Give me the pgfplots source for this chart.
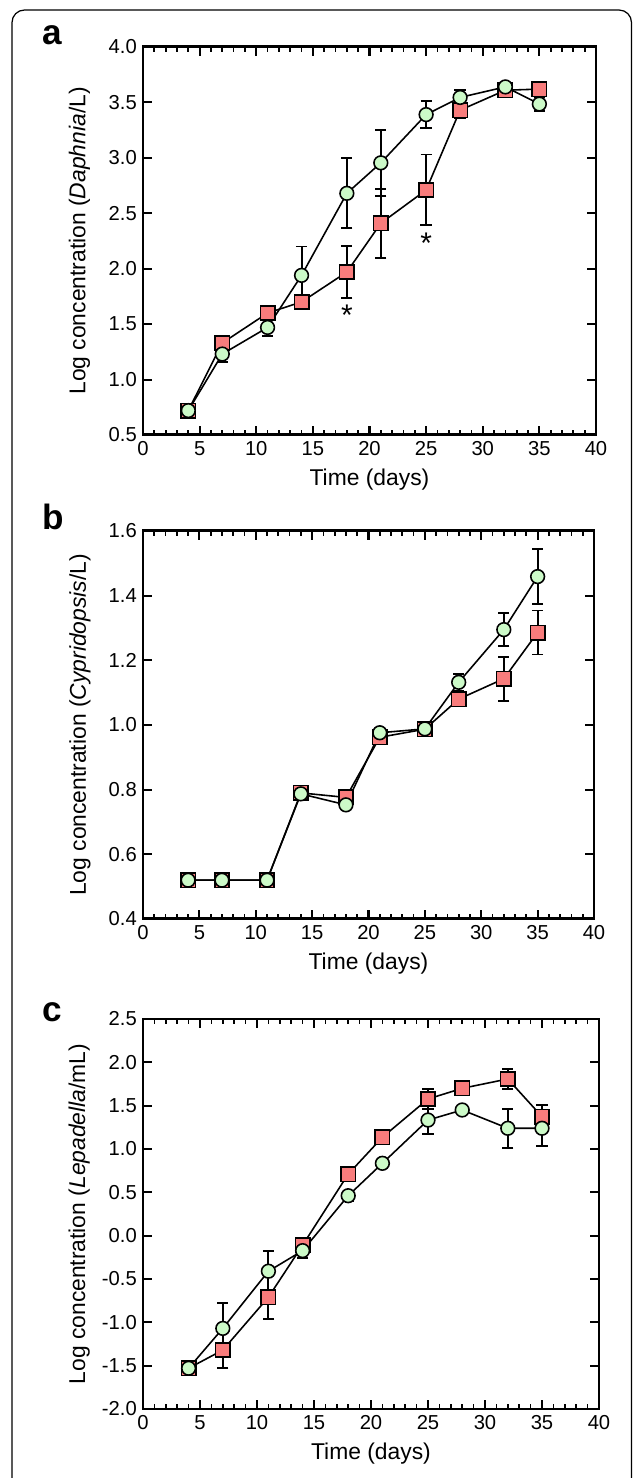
\documentclass[border=0pt]{standalone}
\usepackage{fontspec}
\setmainfont{Liberation Sans}
\usepackage{pgfplots}
\pgfplotsset{compat=1.18}

\definecolor{sqred}{RGB}{248,124,124}
\definecolor{cigreen}{RGB}{204,250,200}

\pgfplotsset{
  panel/.style={
    scale only axis,
    xmin=0, xmax=40, xtick={0,5,...,40},
    minor x tick num=4,
    tick pos=both, tick align=inside,
    axis line style={line width=1.7pt},
    major tick length=5pt, minor tick length=2.6pt,
    every major tick/.append style={line width=1.2pt, black},
    every minor tick/.append style={line width=1pt, black},
    tick label style={font=\fontsize{11.5}{12}\selectfont},
    /pgf/number format/assume math mode=true,
    y tick label style={/pgf/number format/fixed, /pgf/number format/fixed zerofill, /pgf/number format/precision=1},
    label style={font=\fontsize{13}{14}\selectfont},
    xlabel={Time (days)},
    xlabel style={at={(axis description cs:0.5,-0.115)}, anchor=center},
    ylabel style={at={(axis description cs:-0.14,0.5)}, anchor=center},
  },
  errs/.style={
    error bars/.cd, y dir=both, y explicit,
    error bar style={line width=1.1pt, black},
    error mark options={rotate=90, mark size=3.2pt, line width=1.1pt, black},
  },
  sq/.style={black, line width=0.9pt, mark=square*, mark size=4.1pt,
    mark options={fill=sqred, line width=0.9pt}, errs},
  ci/.style={black, line width=0.9pt, mark=*, mark size=3.9pt,
    mark options={fill=cigreen, line width=0.9pt}, errs},
}

\begin{document}
\begin{tikzpicture}
\useasboundingbox (0,0) rectangle (12.66,29.56);
\draw[line width=0.7pt, rounded corners=0.25cm] (0.24,-1) rectangle (12.63,29.36);

\node[anchor=base west, font=\bfseries\fontsize{20}{21}\selectfont] at (0.72,28.66) {a};
\node[anchor=base west, font=\bfseries\fontsize{20}{21}\selectfont] at (0.72,18.96) {b};
\node[anchor=base west, font=\bfseries\fontsize{20}{21}\selectfont] at (0.72,9.12) {c};

% panel a
\begin{axis}[panel, at={(2.86cm,20.86cm)}, anchor=south west,
  width=9.06cm, height=7.76cm,
  ymin=0.5, ymax=4.0, ytick={0.5,1.0,...,4.0},
  ylabel={Log concentration (\textit{Daphnia}/L)}]
\addplot[sq] coordinates {
  (4,0.72) +- (0,0.02)
  (7,1.33) +- (0,0.05)
  (11,1.60) +- (0,0.03)
  (14,1.70) +- (0,0.04)
  (18,1.97) +- (0,0.235)
  (21,2.41) +- (0,0.31)
  (25,2.71) +- (0,0.32)
  (28,3.43) +- (0,0.07)
  (32,3.61) +- (0,0.02)
  (35,3.62) +- (0,0.03)
};
\addplot[ci] coordinates {
  (4,0.72) +- (0,0.02)
  (7,1.23) +- (0,0.07)
  (11,1.47) +- (0,0.08)
  (14,1.94) +- (0,0.26)
  (18,2.68) +- (0,0.315)
  (21,2.955) +- (0,0.295)
  (25,3.39) +- (0,0.12)
  (28,3.545) +- (0,0.07)
  (32,3.64) +- (0,0.02)
  (35,3.485) +- (0,0.065)
};
\node[anchor=base, font=\fontsize{17}{18}\selectfont] at (axis cs:18,1.49) {*};
\node[anchor=base, font=\fontsize{17}{18}\selectfont] at (axis cs:25,2.14) {*};
\end{axis}

% panel b
\begin{axis}[panel, at={(2.86cm,11.18cm)}, anchor=south west,
  width=9.02cm, height=7.76cm,
  ymin=0.4, ymax=1.6, ytick={0.4,0.6,...,1.6},
  ylabel={Log concentration (\textit{Cypridopsis}/L)}]
\addplot[sq] coordinates {
  (4,0.52) +- (0,0.005)
  (7,0.52) +- (0,0.005)
  (11,0.52) +- (0,0.005)
  (14,0.79) +- (0,0.01)
  (18,0.776) +- (0,0.01)
  (21,0.962) +- (0,0.01)
  (25,0.987) +- (0,0.01)
  (28,1.08) +- (0,0.02)
  (32,1.143) +- (0,0.068)
  (35,1.286) +- (0,0.068)
};
\addplot[ci] coordinates {
  (4,0.52) +- (0,0.005)
  (7,0.52) +- (0,0.005)
  (11,0.52) +- (0,0.005)
  (14,0.787) +- (0,0.005)
  (18,0.753) +- (0,0.005)
  (21,0.976) +- (0,0.005)
  (25,0.988) +- (0,0.005)
  (28,1.132) +- (0,0.026)
  (32,1.295) +- (0,0.05)
  (35,1.459) +- (0,0.084)
};
\end{axis}

% panel c
\begin{axis}[panel, at={(2.86cm,1.38cm)}, anchor=south west,
  width=9.12cm, height=7.8cm,
  ymin=-2.0, ymax=2.5, ytick={-2.0,-1.5,...,2.5},
  ylabel={Log concentration (\textit{Lepadella}/mL)}]
\addplot[sq] coordinates {
  (4,-1.53) +- (0,0.03)
  (7,-1.32) +- (0,0.21)
  (11,-0.71) +- (0,0.255)
  (14,-0.11) +- (0,0.05)
  (18,0.71) +- (0,0.03)
  (21,1.135) +- (0,0.03)
  (25,1.577) +- (0,0.12)
  (28,1.70) +- (0,0.06)
  (32,1.808) +- (0,0.115)
  (35,1.373) +- (0,0.13)
};
\addplot[ci] coordinates {
  (4,-1.53) +- (0,0.03)
  (7,-1.07) +- (0,0.29)
  (11,-0.41) +- (0,0.235)
  (14,-0.173) +- (0,0.085)
  (18,0.461) +- (0,0.058)
  (21,0.835) +- (0,0.03)
  (25,1.334) +- (0,0.16)
  (28,1.45) +- (0,0.03)
  (32,1.239) +- (0,0.223)
  (35,1.239) +- (0,0.205)
};
\end{axis}
\end{tikzpicture}
\end{document}
